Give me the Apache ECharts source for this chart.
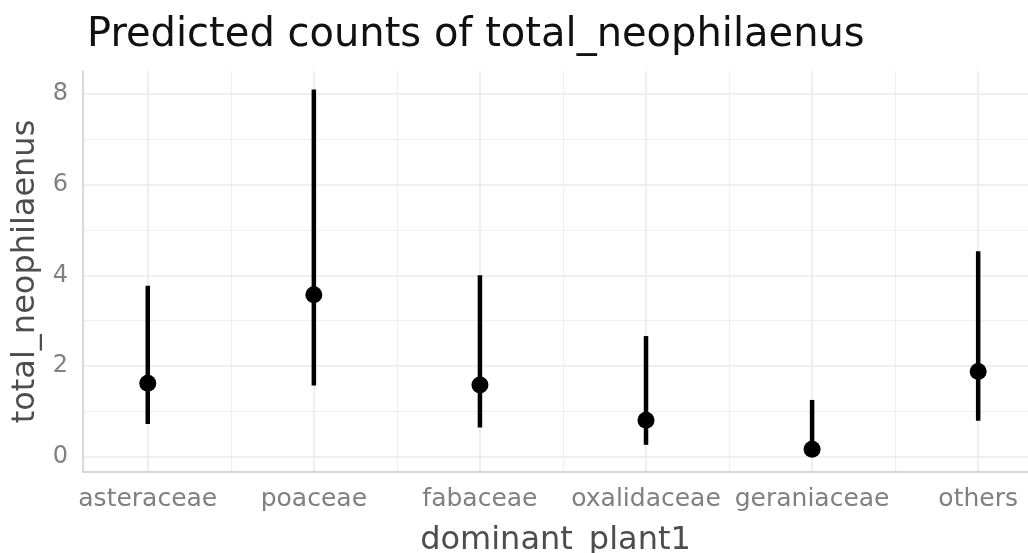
<!DOCTYPE html>
<html>
<head>
<meta charset="utf-8">
<script src="https://cdn.jsdelivr.net/npm/echarts@6/dist/echarts.min.js"></script>
<style>html,body{margin:0;padding:0;background:#fff}#c{width:1028px;height:553px}</style>
</head>
<body>
<div id="c"></div>
<script>
const categories = ['asteraceae', 'poaceae', 'fabaceae', 'oxalidaceae', 'geraniaceae', 'others'];
const predicted = [1.62, 3.57, 1.58, 0.80, 0.16, 1.88];
const lower = [0.72, 1.57, 0.64, 0.26, 0.04, 0.79];
const upper = [3.77, 8.10, 4.00, 2.66, 1.25, 4.53];
const yTicks = [0, 2, 4, 6, 8];
const yMinor = [1, 3, 5, 7];

const idx = categories.map((c, i) => i);
const xMinor = idx.slice(0, -1).map(i => i + 0.5);

const chart = echarts.init(document.getElementById('c'), null, {renderer: 'canvas'});
const font = 'DejaVu Sans';
const yMin = -0.34, yMax = 8.51, xMin = -0.39, xMax = 5.30;

const option = {
  backgroundColor: '#ffffff',
  animation: false,
  title: {
    text: 'Predicted counts of total_neophilaenus',
    left: 82, top: 11,
    textStyle: {fontFamily: font, fontSize: 40, fontWeight: 'normal', color: '#111'}
  },
  grid: [{left: 83, right: 0, top: 71, bottom: 81, outerBoundsMode: 'none', containLabel: false}],
  xAxis: [{
    type: 'value', min: xMin, max: xMax, gridIndex: 0,
    name: 'dominant_plant1', nameLocation: 'middle', nameGap: 53,
    nameTextStyle: {fontFamily: font, fontSize: 32, color: '#4d4d4d'},
    axisLine: {show: true, onZero: false, lineStyle: {color: '#cccccc', width: 1.5}},
    axisTick: {show: false, customValues: idx},
    axisLabel: {customValues: idx, formatter: v => categories[Math.round(v)] || '', fontFamily: font, fontSize: 25, color: '#808080', margin: 15},
    splitLine: {show: true, lineStyle: {color: '#ebebeb', width: 1.6}}
  }, {
    type: 'value', min: xMin, max: xMax, gridIndex: 0, position: 'top',
    axisLine: {show: false}, axisLabel: {show: false},
    axisTick: {show: false, customValues: xMinor},
    splitLine: {show: true, lineStyle: {color: '#efefef', width: 1.2}}
  }],
  yAxis: [{
    type: 'value', min: yMin, max: yMax, gridIndex: 0,
    name: 'total_neophilaenus', nameLocation: 'middle', nameGap: 38,
    nameTextStyle: {fontFamily: font, fontSize: 32, color: '#4d4d4d'},
    axisLine: {show: true, onZero: false, lineStyle: {color: '#cccccc', width: 1.5}},
    axisTick: {show: false, customValues: yTicks},
    axisLabel: {customValues: yTicks, fontFamily: font, fontSize: 24, color: '#808080', margin: 15},
    splitLine: {show: true, lineStyle: {color: '#ebebeb', width: 1.6}}
  }, {
    type: 'value', min: yMin, max: yMax, gridIndex: 0, position: 'right',
    axisLine: {show: false}, axisLabel: {show: false},
    axisTick: {show: false, customValues: yMinor},
    splitLine: {show: true, lineStyle: {color: '#efefef', width: 1.2}}
  }],
  series: [{
    type: 'custom',
    xAxisIndex: 0, yAxisIndex: 0,
    data: idx.map(i => [i, lower[i], upper[i]]),
    renderItem: function (params, api) {
      const p1 = api.coord([api.value(0), api.value(1)]);
      const p2 = api.coord([api.value(0), api.value(2)]);
      return {type: 'line', shape: {x1: p1[0], y1: p1[1], x2: p2[0], y2: p2[1]},
        style: {stroke: '#000', lineWidth: 4.5}};
    },
    z: 3
  }, {
    type: 'scatter',
    xAxisIndex: 0, yAxisIndex: 0,
    data: idx.map(i => [i, predicted[i]]),
    symbol: 'circle', symbolSize: 17,
    itemStyle: {color: '#000', opacity: 1},
    z: 4
  }]
};
chart.setOption(option);
</script>
</body>
</html>
